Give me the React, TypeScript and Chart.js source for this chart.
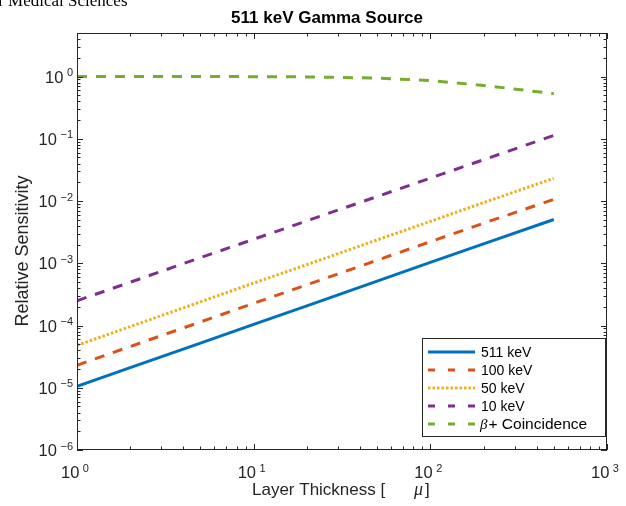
import { useEffect, useRef } from 'react';
import { Chart, registerables } from 'chart.js';

Chart.register(...registerables);

const thickness = [1, 2, 5, 10, 20, 50, 100, 200, 500];
const sens511 = [1.05e-5, 2.1e-5, 5.2e-5, 1.04e-4, 2.07e-4, 5.15e-4, 1.03e-3, 2.05e-3, 5.05e-3];
const sens100 = [2.3e-5, 4.6e-5, 1.14e-4, 2.27e-4, 4.5e-4, 1.12e-3, 2.22e-3, 4.4e-3, 1.06e-2];
const sens50 = [4.8e-5, 9.6e-5, 2.4e-4, 4.8e-4, 9.5e-4, 2.37e-3, 4.7e-3, 9.4e-3, 2.32e-2];
const sens10 = [2.5e-4, 4.95e-4, 1.23e-3, 2.43e-3, 4.8e-3, 1.18e-2, 2.33e-2, 4.6e-2, 0.113];
const sensCoinc = [1.0, 1.0, 1.0, 0.995, 0.985, 0.945, 0.86, 0.72, 0.53];

const seriesLabels = ['511 keV', '100 keV', '50 keV', '10 keV', '+ Coincidence'];
const seriesColors = ['#0072BD', '#D95319', '#EDB120', '#7E2F8E', '#77AC30'];
const xTickExponents = [0, 1, 2, 3];
const yTickExponents = [-6, -5, -4, -3, -2, -1, 0];

const titleText = '511 keV Gamma Source';
const xLabelText = 'Layer Thickness [';
const yLabelText = 'Relative Sensitivity';
const headerText = 'for Medical Sciences';

const AXIS = '#262626';
const SANS = '"Liberation Sans", Arial, Helvetica, sans-serif';
const SERIF = '"Liberation Serif", "Times New Roman", serif';

const dashFor = (i: number): number[] => {
  if (i === 0) return [];
  if (i === 2) return [2.5, 2];
  return [10, 9];
};

const legendDashFor = (i: number): number[] => {
  if (i === 0) return [];
  if (i === 2) return [2.5, 2];
  return [7, 13];
};

function drawPow(ctx: CanvasRenderingContext2D, exp: string, x: number, baseY: number, mode: 'right' | 'center') {
  ctx.font = `16.5px ${SANS}`;
  const bw = ctx.measureText('10').width;
  ctx.font = `11px ${SANS}`;
  const expStr = exp.replace('-', '\u2212');
  const ew = ctx.measureText(expStr).width;
  const gap = 3.5;
  const total = bw + gap + ew;
  const start = mode === 'right' ? x - total : x - total / 2;
  ctx.textAlign = 'left';
  ctx.textBaseline = 'alphabetic';
  ctx.fillStyle = AXIS;
  ctx.font = `16.5px ${SANS}`;
  ctx.fillText('10', start, baseY);
  ctx.font = `11px ${SANS}`;
  ctx.fillText(expStr, start + bw + gap, baseY - 6.5);
}

const decorPlugin = {
  id: 'matlabDecor',
  afterDraw(chart: any) {
    const ctx: CanvasRenderingContext2D = chart.ctx;
    const { left, right, top, bottom } = chart.chartArea;
    const xs = chart.scales.x;
    const ys = chart.scales.y;
    ctx.save();

    // frame
    ctx.strokeStyle = AXIS;
    ctx.lineWidth = 1;
    ctx.setLineDash([]);
    ctx.strokeRect(Math.round(left) + 0.5, Math.round(top) + 0.5, Math.round(right - left) - 1, Math.round(bottom - top) - 1);

    // x ticks
    ctx.beginPath();
    for (let d = 0; d <= 3; d++) {
      for (let m = 1; m <= 9; m++) {
        const v = m * Math.pow(10, d);
        if (v > 1000) break;
        const px = Math.round(xs.getPixelForValue(v)) + 0.5;
        const len = m === 1 ? 6 : 3.5;
        ctx.moveTo(px, bottom);
        ctx.lineTo(px, bottom - len);
        ctx.moveTo(px, top);
        ctx.lineTo(px, top + len);
      }
    }
    // y ticks
    for (let d = -6; d <= 0; d++) {
      for (let m = 1; m <= 9; m++) {
        const v = m * Math.pow(10, d);
        if (v > 5.0001) break;
        const py = Math.round(ys.getPixelForValue(v)) + 0.5;
        const len = m === 1 ? 6 : 3.5;
        ctx.moveTo(left, py);
        ctx.lineTo(left + len, py);
        ctx.moveTo(right, py);
        ctx.lineTo(right - len, py);
      }
    }
    ctx.stroke();

    // tick labels
    xTickExponents.forEach((e) => {
      const px = xs.getPixelForValue(Math.pow(10, e));
      drawPow(ctx, String(e), px - 2, bottom + 28, 'center');
    });
    yTickExponents.forEach((e) => {
      const py = ys.getPixelForValue(Math.pow(10, e));
      drawPow(ctx, String(e), left - 4, py + 6, 'right');
    });

    // title
    ctx.fillStyle = '#000';
    ctx.font = `bold 17px ${SANS}`;
    ctx.textAlign = 'center';
    ctx.textBaseline = 'alphabetic';
    ctx.fillText(titleText, 327, 23);

    // x label
    ctx.fillStyle = AXIS;
    ctx.font = `17px ${SANS}`;
    ctx.textAlign = 'left';
    ctx.fillText(xLabelText, 252, 495);
    ctx.font = `italic 18px ${SERIF}`;
    ctx.fillText('\u03bc', 414, 495);
    ctx.font = `17px ${SANS}`;
    ctx.fillText(']', 425, 495);

    // y label
    ctx.save();
    ctx.translate(28, 251);
    ctx.rotate(-Math.PI / 2);
    ctx.font = `18px ${SANS}`;
    ctx.textAlign = 'center';
    ctx.fillText(yLabelText, 0, 0);
    ctx.restore();

    // legend
    const lx = 422, ly = 338, lw = 183, lh = 98;
    ctx.fillStyle = '#fff';
    ctx.fillRect(lx, ly, lw, lh);
    ctx.strokeStyle = AXIS;
    ctx.lineWidth = 1;
    ctx.setLineDash([]);
    ctx.strokeRect(lx + 0.5, ly + 0.5, lw, lh);
    seriesLabels.forEach((label, i) => {
      const cy = 352 + i * 18;
      ctx.strokeStyle = seriesColors[i];
      ctx.lineWidth = 3;
      ctx.lineCap = 'butt';
      ctx.setLineDash(legendDashFor(i));
      ctx.beginPath();
      ctx.moveTo(428, cy);
      ctx.lineTo(475, cy);
      ctx.stroke();
      ctx.setLineDash([]);
      ctx.fillStyle = '#000';
      ctx.textBaseline = 'middle';
      ctx.textAlign = 'left';
      if (i === 4) {
        ctx.font = `italic 15px ${SERIF}`;
        ctx.fillText('\u03b2', 480, cy + 1);
        const bw = ctx.measureText('\u03b2').width;
        ctx.font = `15.5px ${SANS}`;
        ctx.fillText(label, 480 + bw + 1, cy + 1);
      } else {
        ctx.font = `14px ${SANS}`;
        ctx.fillText(label, 481, cy + 1);
      }
    });

    // cropped header text
    ctx.fillStyle = '#000';
    ctx.font = `17px ${SERIF}`;
    ctx.textBaseline = 'alphabetic';
    ctx.textAlign = 'left';
    ctx.fillText(headerText, -16, 6);

    ctx.restore();
  },
};

export default function App() {
  const canvasRef = useRef<HTMLCanvasElement | null>(null);

  useEffect(() => {
    document.body.style.margin = '0';
    const canvas = canvasRef.current;
    if (!canvas) return;
    const seriesData = [sens511, sens100, sens50, sens10, sensCoinc];
    const chart = new Chart(canvas, {
      type: 'line',
      data: {
        datasets: seriesData.map((vals, i) => ({
          label: seriesLabels[i],
          data: thickness.map((t, k) => ({ x: t, y: vals[k] })),
          borderColor: seriesColors[i],
          backgroundColor: seriesColors[i],
          borderWidth: 3,
          borderDash: dashFor(i),
          borderCapStyle: 'butt' as const,
          pointRadius: 0,
          tension: 0,
          fill: false,
        })),
      },
      options: {
        responsive: false,
        animation: false,
        devicePixelRatio: 1,
        layout: { padding: { left: 77, right: 19, top: 33, bottom: 56 } },
        scales: {
          x: { type: 'logarithmic', min: 1, max: 1000, display: false },
          y: { type: 'logarithmic', min: 1e-6, max: 5, display: false },
        },
        plugins: {
          legend: { display: false },
          tooltip: { enabled: false },
          title: { display: false },
        },
      },
      plugins: [decorPlugin],
    });
    return () => chart.destroy();
  }, []);

  return <canvas ref={canvasRef} width={626} height={506} style={{ display: 'block' }} />;
}
